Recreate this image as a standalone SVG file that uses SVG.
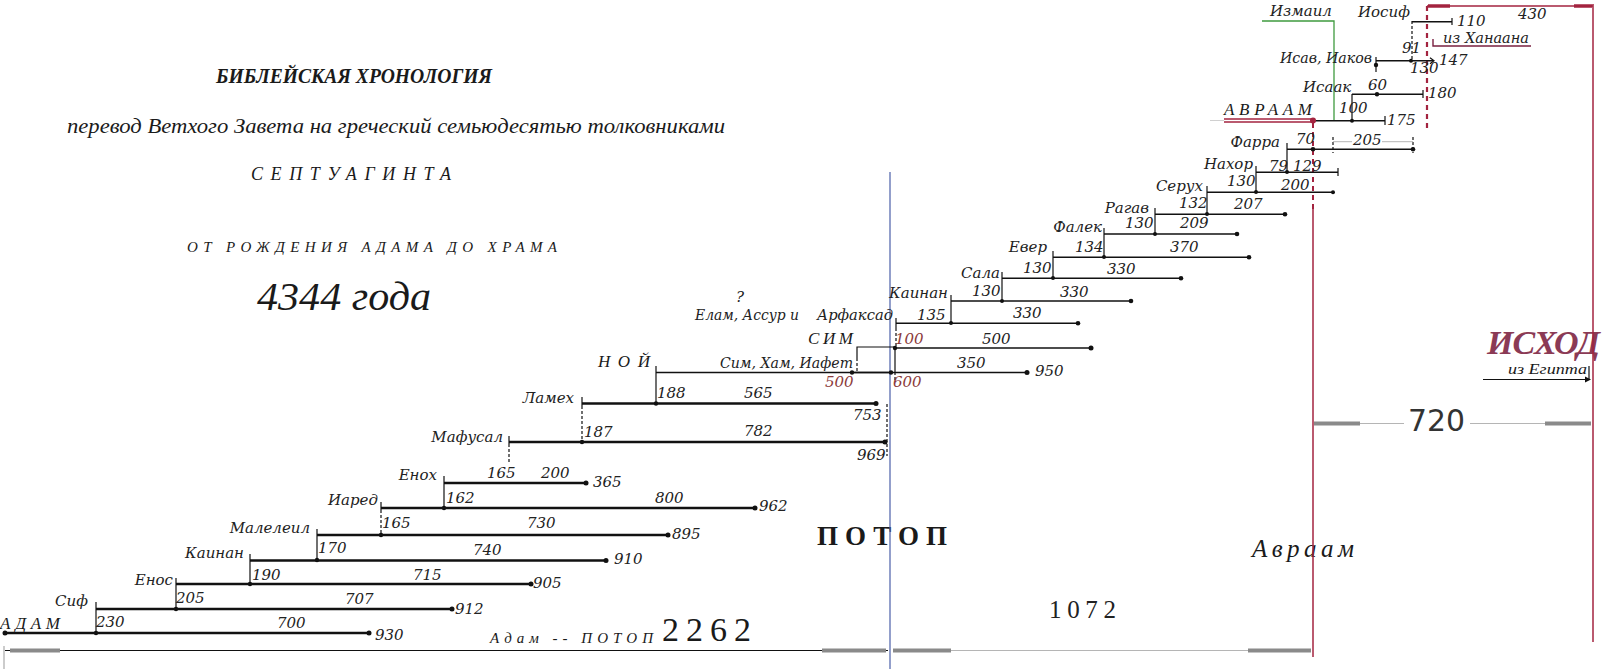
<svg xmlns="http://www.w3.org/2000/svg" width="1602" height="669" viewBox="0 0 1602 669">
<style>
.t{font-family:"DejaVu Serif",serif;font-style:italic;font-size:15px;fill:#222}
.e{text-anchor:end}
.r{fill:#8b3a3a}
.h{font-family:"Liberation Serif",serif;font-style:italic;fill:#1a1a1a}
.ln{stroke:#111;stroke-width:1.5;fill:none}
.tk{stroke:#111;stroke-width:2.6;fill:none}
.c{stroke:#111;stroke-width:1.2;fill:none}
.d{stroke-dasharray:3 2}
.dot{fill:#111}
.g{stroke:#8a8a8a;stroke-width:4;fill:none}
.gl{stroke:#b5b5b5;stroke-width:1;fill:none}
.red{stroke:#a3233f;fill:none}
</style>
<rect width="1602" height="669" fill="#fff"/>

<g id="titles">
<text class="h" x="216" y="83" font-size="21" font-weight="bold" textLength="276" lengthAdjust="spacingAndGlyphs">БИБЛЕЙСКАЯ ХРОНОЛОГИЯ</text>
<text class="h" x="67" y="133" font-size="20" textLength="658" lengthAdjust="spacingAndGlyphs">перевод Ветхого Завета на греческий семьюдесятью толковниками</text>
<text class="h" x="251" y="180" font-size="18" textLength="200" lengthAdjust="spacing">СЕПТУАГИНТА</text>
<text class="h" x="187" y="252" font-size="15" textLength="370" lengthAdjust="spacing">ОТ РОЖДЕНИЯ АДАМА ДО ХРАМА</text>
<text class="h" x="257" y="310" font-size="40" fill="#333" textLength="174" lengthAdjust="spacingAndGlyphs">4344 года</text>
<text x="817" y="545" font-family="Liberation Serif,serif" font-weight="bold" font-size="27" fill="#1a1a1a" textLength="130" lengthAdjust="spacing">ПОТОП</text>
<text class="h" x="490" y="643" font-size="15" textLength="163" lengthAdjust="spacing">Адам -- ПОТОП</text>
<text x="662" y="641" font-family="Liberation Serif,serif" font-size="34" fill="#1a1a1a" textLength="89" lengthAdjust="spacing">2262</text>
<text x="1049" y="618" font-family="Liberation Serif,serif" font-size="25" fill="#222" textLength="67" lengthAdjust="spacing">1072</text>
<text class="h" x="1252" y="557" font-size="25" fill="#222" textLength="102" lengthAdjust="spacing">Авраам</text>
<text x="1408" y="431" font-family="DejaVu Sans,sans-serif" font-size="30" fill="#333" textLength="57" lengthAdjust="spacingAndGlyphs">720</text>
<text x="1487" y="354" font-family="Liberation Serif,serif" font-weight="bold" font-style="italic" font-size="34" fill="#8b3a55" textLength="113" lengthAdjust="spacing">ИСХОД</text>
<text class="h" x="1508" y="374" font-size="14" fill="#333" textLength="79" lengthAdjust="spacingAndGlyphs">из Египта</text>
</g>

<g id="axes">
<line x1="890" y1="172" x2="890" y2="669" stroke="#4a5fa8" stroke-width="1.2"/>
<line class="c" x1="5" y1="650.5" x2="888" y2="650.5"/>
<line class="gl" x1="951" y1="650.5" x2="1248" y2="650.5"/>
<line class="g" x1="10" y1="650.5" x2="60" y2="650.5"/>
<line class="g" x1="822" y1="650.5" x2="886" y2="650.5"/>
<line class="g" x1="893" y1="650.5" x2="951" y2="650.5"/>
<line class="g" x1="1248" y1="650.5" x2="1311" y2="650.5"/>
<line x1="4" y1="646" x2="4" y2="669" stroke="#999" stroke-width="1"/>
<line class="g" x1="1314" y1="423.5" x2="1360" y2="423.5"/>
<line class="gl" x1="1360" y1="423.5" x2="1404" y2="423.5"/>
<line class="gl" x1="1470" y1="423.5" x2="1545" y2="423.5"/>
<line class="g" x1="1545" y1="423.5" x2="1591" y2="423.5"/>
<line class="red" x1="1313" y1="209" x2="1313" y2="657" stroke-width="1.5"/>
<line class="red" x1="1313" y1="123" x2="1313" y2="209" stroke-width="2" stroke-dasharray="5 4"/>
<line class="red" x1="1427" y1="6" x2="1427" y2="130" stroke-width="2.2" stroke-dasharray="5 4"/>
<line class="red" x1="1427" y1="6" x2="1593" y2="6" stroke-width="1.5"/>
<line class="red" x1="1428" y1="6" x2="1450" y2="6" stroke-width="3.5"/>
<line class="red" x1="1574" y1="6" x2="1592" y2="6" stroke-width="3.5"/>
<line class="red" x1="1593" y1="4" x2="1593" y2="642" stroke-width="1.5"/>
<line class="c" x1="1483" y1="379.5" x2="1588" y2="379.5"/>
<path d="M1585,376.5 L1591,379.5 L1585,382.5 Z" fill="#111"/>
<line class="c" x1="1589" y1="366" x2="1589" y2="380" stroke-width="0.8"/>
</g>

<g id="connectors">
<line class="c" x1="96" y1="602" x2="96" y2="633"/>
<line class="c" x1="176" y1="578" x2="176" y2="609"/>
<line class="c" x1="250" y1="554" x2="250" y2="584"/>
<line class="c" x1="317" y1="529" x2="317" y2="560"/>
<line class="c" x1="381" y1="502" x2="381" y2="510"/>
<line class="c d" x1="381" y1="510" x2="381" y2="535"/>
<line class="c" x1="444" y1="476" x2="444" y2="508"/>
<line class="c" x1="509" y1="436" x2="509" y2="444"/>
<line class="c d" x1="509" y1="444" x2="509" y2="463"/>
<line class="c" x1="582" y1="397" x2="582" y2="406"/>
<line class="c d" x1="582" y1="406" x2="582" y2="442"/>
<line class="c" x1="656" y1="366" x2="656" y2="403"/>
<line class="c d" x1="887" y1="404" x2="887" y2="456"/>
<path class="c" d="M857,358 V347 H895 V372"/>
<line class="c d" x1="857" y1="358" x2="857" y2="372"/>
<line class="c d" x1="895" y1="372" x2="895" y2="381"/>
<line class="c" x1="896" y1="318" x2="896" y2="328"/>
<line class="c d" x1="896" y1="328" x2="896" y2="348"/>
<line class="c" x1="951" y1="295" x2="951" y2="323"/>
<line class="c" x1="1002" y1="272" x2="1002" y2="301"/>
<line class="c" x1="1053" y1="251" x2="1053" y2="278"/>
<line class="c" x1="1104" y1="228" x2="1104" y2="257"/>
<line class="c" x1="1155" y1="208" x2="1155" y2="234"/>
<line class="c" x1="1207" y1="186" x2="1207" y2="214"/>
<line class="c" x1="1256" y1="166" x2="1256" y2="192"/>
<line class="c" x1="1287" y1="143" x2="1287" y2="172"/>
<line class="c" x1="1352" y1="94" x2="1352" y2="121"/>
<line class="c" x1="1376" y1="57" x2="1376" y2="72"/>
<line class="c d" x1="1412" y1="21" x2="1412" y2="61"/>
<path d="M1262,21 H1334 V121" stroke="#3f9a3f" stroke-width="1.3" fill="none"/>
<circle class="dot" cx="96" cy="633" r="2.2"/>
<circle class="dot" cx="176" cy="609" r="2.2"/>
<circle class="dot" cx="250" cy="584" r="2.2"/>
<circle class="dot" cx="317" cy="560" r="2.2"/>
<circle class="dot" cx="381" cy="535" r="2.2"/>
<circle class="dot" cx="444" cy="508" r="2.2"/>
<circle class="dot" cx="582" cy="442" r="2.2"/>
<circle class="dot" cx="656" cy="403.5" r="2.2"/>
<circle class="dot" cx="895" cy="348" r="2.2"/>
<circle class="dot" cx="951" cy="323" r="2"/>
<circle class="dot" cx="1002" cy="301" r="2"/>
<circle class="dot" cx="1053" cy="278" r="2"/>
<circle class="dot" cx="1104" cy="257" r="2"/>
<circle class="dot" cx="1155" cy="234" r="2"/>
<circle class="dot" cx="1207" cy="214" r="2"/>
<circle class="dot" cx="1256" cy="192" r="2"/>
<circle class="dot" cx="1287" cy="172" r="2"/>
<circle class="dot" cx="1352" cy="120.7" r="2"/>
<circle class="dot" cx="1376" cy="65" r="2.2"/>
<circle class="dot" cx="1411" cy="60.7" r="2"/>
</g>

<g id="adam">
<line class="tk" x1="5" y1="633" x2="369" y2="633"/>
<circle class="dot" cx="5" cy="633" r="2.5"/><circle class="dot" cx="369" cy="633" r="2.5"/>
<text class="h" x="0" y="629" font-size="17" textLength="60" lengthAdjust="spacing">АДАМ</text>
<text class="t" x="96" y="627">230</text><text class="t" x="277" y="628">700</text><text class="t" x="375" y="640">930</text>
</g>
<g id="sif">
<line class="tk" x1="96" y1="609" x2="452" y2="609"/><circle class="dot" cx="452" cy="609" r="2.5"/>
<text class="t e" x="88" y="606">Сиф</text>
<text class="t" x="176" y="603">205</text><text class="t" x="345" y="604">707</text><text class="t" x="455" y="614" font-size="13">912</text>
</g>
<g id="enos">
<line class="tk" x1="176" y1="584" x2="531" y2="584"/><circle class="dot" cx="531" cy="584" r="2.5"/>
<text class="t e" x="173" y="585">Енос</text>
<text class="t" x="252" y="580">190</text><text class="t" x="413" y="580">715</text><text class="t" x="533" y="588" font-size="13">905</text>
</g>
<g id="kainan1">
<line class="tk" x1="250" y1="560.5" x2="606" y2="560.5"/><circle class="dot" cx="606" cy="560.5" r="2.5"/>
<text class="t e" x="244" y="558">Каинан</text>
<text class="t" x="318" y="553">170</text><text class="t" x="473" y="555">740</text><text class="t" x="614" y="564">910</text>
</g>
<g id="maleleil">
<line class="tk" x1="317" y1="535" x2="668" y2="535"/><circle class="dot" cx="668" cy="535" r="2.5"/>
<text class="t e" x="310" y="533">Малелеил</text>
<text class="t" x="382" y="528">165</text><text class="t" x="527" y="528">730</text><text class="t" x="672" y="539">895</text>
</g>
<g id="iared">
<line class="tk" x1="381" y1="508" x2="755" y2="508"/><circle class="dot" cx="755" cy="508" r="2.5"/>
<text class="t e" x="378" y="505">Иаред</text>
<text class="t" x="446" y="503">162</text><text class="t" x="655" y="503">800</text><text class="t" x="759" y="511">962</text>
</g>
<g id="enoh">
<line class="tk" x1="444" y1="483" x2="586" y2="483"/><circle class="dot" cx="586" cy="483" r="2.5"/>
<text class="t e" x="437" y="480">Енох</text>
<text class="t" x="487" y="478">165</text><text class="t" x="541" y="478">200</text><text class="t" x="593" y="487">365</text>
</g>
<g id="mafusal">
<line class="tk" x1="509" y1="442" x2="885" y2="442"/><circle class="dot" cx="885" cy="442" r="2.5"/>
<text class="t e" x="503" y="442">Мафусал</text>
<text class="t" x="584" y="437">187</text><text class="t" x="744" y="436">782</text><text class="t" x="857" y="460">969</text>
</g>
<g id="lameh">
<line class="tk" x1="582" y1="403.5" x2="876" y2="403.5"/><circle class="dot" cx="876" cy="403.5" r="2.5"/>
<text class="t e" x="574" y="403">Ламех</text>
<text class="t" x="657" y="398">188</text><text class="t" x="744" y="398">565</text><text class="t" x="853" y="420">753</text>
</g>
<g id="noi">
<line class="ln" x1="656" y1="372.5" x2="1027" y2="372.5"/>
<line class="ln" x1="852" y1="372.5" x2="891" y2="372.5" stroke-width="3.2"/>
<circle class="dot" cx="852" cy="372.5" r="2.2"/><circle class="dot" cx="891" cy="372.5" r="2.2"/><circle class="dot" cx="1027" cy="372.5" r="2.5"/>
<text class="h" x="598" y="367" font-size="17" textLength="52" lengthAdjust="spacing">НОЙ</text>
<text class="t" x="720" y="368" textLength="133" lengthAdjust="spacingAndGlyphs">Сим, Хам, Иафет</text>
<text class="t r" x="825" y="387">500</text><text class="t r" x="893" y="387">600</text>
<text class="t" x="957" y="368">350</text><text class="t" x="1035" y="376">950</text>
</g>
<g id="sim">
<line class="ln" x1="895" y1="348" x2="1091" y2="348"/><circle class="dot" cx="1091" cy="348" r="2.5"/>
<text class="h" x="808" y="344" font-size="17" textLength="45" lengthAdjust="spacing">СИМ</text>
<text class="t r" x="895" y="344">100</text><text class="t" x="982" y="344">500</text>
</g>
<g id="elam">
<text class="t" x="736" y="302" font-size="13">?</text>
<text class="t" x="695" y="320" textLength="104" lengthAdjust="spacingAndGlyphs">Елам, Ассур и</text>
</g>
<g id="arfaksad">
<line class="ln" x1="896" y1="323.3" x2="1078" y2="323.3"/><circle class="dot" cx="1078" cy="323.3" r="2.3"/>
<text class="t" x="817" y="320" textLength="76" lengthAdjust="spacingAndGlyphs">Арфаксад</text>
<text class="t" x="917" y="320">135</text><text class="t" x="1013" y="318">330</text>
</g>
<g id="kainan2">
<line class="ln" x1="951" y1="301" x2="1131" y2="301"/><circle class="dot" cx="1131" cy="301" r="2.3"/>
<text class="t e" x="948" y="298">Каинан</text>
<text class="t" x="972" y="296">130</text><text class="t" x="1060" y="297">330</text>
</g>
<g id="sala">
<line class="ln" x1="1002" y1="278.3" x2="1181" y2="278.3"/><circle class="dot" cx="1181" cy="278.3" r="2.3"/>
<text class="t e" x="1000" y="278">Сала</text>
<text class="t" x="1023" y="273">130</text><text class="t" x="1107" y="274">330</text>
</g>
<g id="ever">
<line class="ln" x1="1053" y1="257.3" x2="1249" y2="257.3"/><circle class="dot" cx="1249" cy="257.3" r="2.3"/>
<text class="t e" x="1047" y="252">Евер</text>
<text class="t" x="1075" y="252">134</text><text class="t" x="1170" y="252">370</text>
</g>
<g id="falek">
<line class="ln" x1="1104" y1="234" x2="1237" y2="234"/><circle class="dot" cx="1237" cy="234" r="2.3"/>
<text class="t e" x="1102" y="232">Фалек</text>
<text class="t" x="1125" y="228">130</text><text class="t" x="1180" y="228">209</text>
</g>
<g id="ragav">
<line class="ln" x1="1155" y1="214.3" x2="1285" y2="214.3"/><circle class="dot" cx="1285" cy="214.3" r="2.3"/>
<text class="t e" x="1149" y="213">Рагав</text>
<text class="t" x="1179" y="208">132</text><text class="t" x="1234" y="209">207</text>
</g>
<g id="seruh">
<line class="ln" x1="1207" y1="192.3" x2="1333" y2="192.3"/><circle class="dot" cx="1333" cy="192.3" r="2"/>
<text class="t e" x="1203" y="191">Серух</text>
<text class="t" x="1227" y="186">130</text><text class="t" x="1281" y="190">200</text>
</g>
<g id="nahor">
<line class="ln" x1="1256" y1="172.3" x2="1338" y2="172.3"/><line class="c" x1="1338" y1="168" x2="1338" y2="176"/>
<text class="t e" x="1253" y="169">Нахор</text>
<text class="t" x="1269" y="171">79</text><text class="t" x="1293" y="171">129</text>
</g>
<g id="farra">
<line class="ln" x1="1287" y1="149.3" x2="1413" y2="149.3"/><circle class="dot" cx="1413" cy="149.3" r="2.3"/><circle class="dot" cx="1313" cy="149.3" r="2.3"/>
<line class="c d" x1="1333" y1="137" x2="1333" y2="153" stroke-width="1"/>
<line class="c d" x1="1413" y1="137" x2="1413" y2="153" stroke-width="1"/>
<line class="gl" x1="1333" y1="141.7" x2="1352" y2="141.7"/><line class="gl" x1="1382" y1="141.7" x2="1413" y2="141.7"/>
<text class="t e" x="1280" y="147">Фарра</text>
<text class="t" x="1296" y="144">70</text><text class="t" x="1353" y="145">205</text>
</g>
<g id="avraam">
<line x1="1210" y1="120.5" x2="1224" y2="120.5" stroke="#d0d0d0" stroke-width="1"/>
<line class="red" x1="1224" y1="119" x2="1313" y2="119" stroke-width="1.5"/>
<line class="red" x1="1224" y1="122" x2="1313" y2="122" stroke-width="1.5"/>
<line class="ln" x1="1313" y1="120.7" x2="1385" y2="120.7"/><line class="c" x1="1385" y1="116" x2="1385" y2="125"/>
<circle cx="1313" cy="120.5" r="3" fill="#a3233f"/>
<text class="h" x="1224" y="115" font-size="17" fill="#5e1a2c" textLength="88" lengthAdjust="spacing">АВРААМ</text>
<text class="t" x="1339" y="113">100</text><text class="t" x="1387" y="125">175</text>
</g>
<g id="isaak">
<line class="ln" x1="1352" y1="94.3" x2="1423" y2="94.3"/><line class="c" x1="1423" y1="90" x2="1423" y2="98"/>
<circle class="dot" cx="1377" cy="94.3" r="2.2"/>
<text class="t" x="1303" y="92">Исаак</text>
<text class="t" x="1368" y="90">60</text><text class="t" x="1428" y="98">180</text>
</g>
<g id="ismail">
<text class="t" x="1270" y="16" fill="#3f8f3f">Измаил</text>
</g>
<g id="isav-iakov">
<line class="ln" x1="1376" y1="60.7" x2="1433" y2="60.7"/>
<path d="M1430,57.7 L1434,60.7 L1430,63.7" class="c"/>
<text class="t" x="1280" y="63" textLength="92" lengthAdjust="spacingAndGlyphs">Исав, Иаков</text>
<text class="t" x="1402" y="53">91</text><text class="t" x="1410" y="73">130</text><text class="t" x="1439" y="65">147</text>
</g>
<g id="iosif">
<line class="ln" x1="1412" y1="21.7" x2="1452" y2="21.7"/><line class="c" x1="1452" y1="18" x2="1452" y2="25"/>
<text class="t" x="1358" y="17">Иосиф</text>
<text class="t" x="1457" y="26">110</text>
</g>
<g id="hanaan">
<text class="t" x="1518" y="19" fill="#a05a5a">430</text>
<text class="t" x="1443" y="43" fill="#8b2a4a" textLength="86" lengthAdjust="spacingAndGlyphs">из Ханаана</text>
<path d="M1433,39 V46 H1531" stroke="#7a2040" stroke-width="1.4" fill="none"/>
</g>
</svg>
